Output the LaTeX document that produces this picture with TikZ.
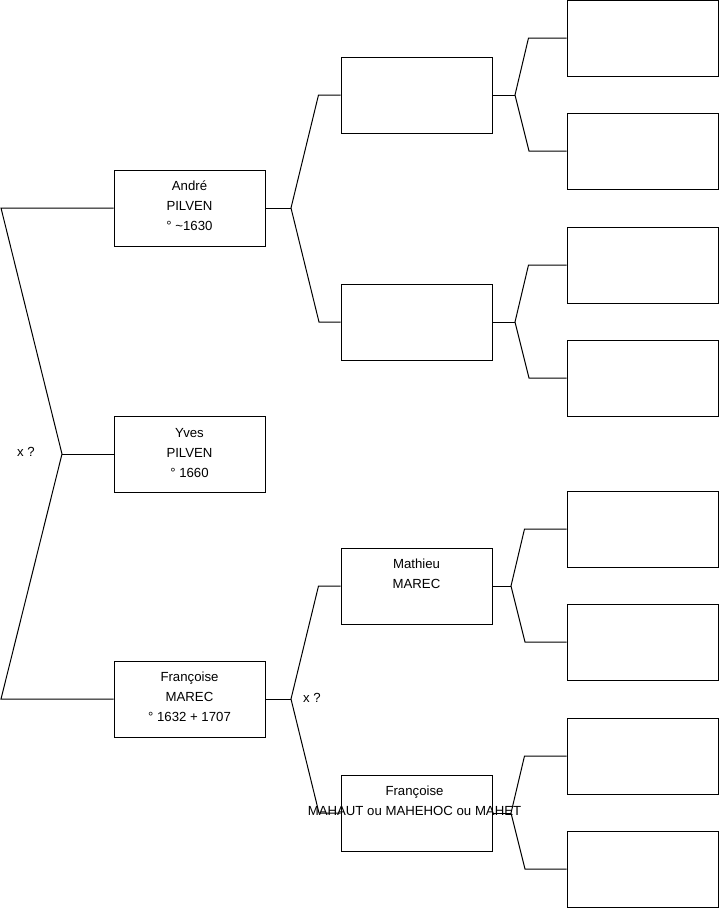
\documentclass[tikz,border=0pt]{standalone}
\usepackage{fontspec}
\setmainfont{Liberation Sans}
\usetikzlibrary{positioning}

\begin{document}
\begin{tikzpicture}[
    x=1pt, y=-1pt,
    person/.style={rectangle, draw, minimum width=151pt, minimum height=76pt, inner sep=0pt, line width=1pt},
    persontxt/.style={align=center, font=\fontsize{13.2}{20}\selectfont, inner sep=0pt, anchor=north},
    note/.style={font=\fontsize{13.2}{14}\selectfont, inner sep=0pt},
    link/.style={line width=1pt}
]
\useasboundingbox (0,0) rectangle (719,908);

% Generation 1
\node[person] (andre) at (189.5,208) {};
\node[person] (yves) at (189.5,454) {};
\node[person] (francoise) at (189.5,699) {};

\node[persontxt, below=11.5pt of andre.north] (andretxt) {André\\PILVEN\\° \textasciitilde1630};
\node[persontxt, below=12.5pt of yves.north] (yvestxt) {Yves\\PILVEN\\° 1660};
\node[persontxt, below=11.5pt of francoise.north] (francoisetxt) {Françoise\\MAREC\\° 1632 + 1707};

% Generation 2
\node[person] (pa) at (416.5,95) {};
\node[person] (pb) at (416.5,322) {};
\node[person] (mathieu) at (416.5,586) {};
\node[person] (mahaut) at (416.5,813) {};

\node[persontxt, below=11.5pt of mathieu.north] (mathieutxt) {Mathieu\\MAREC};
\node[persontxt, below=11.5pt of mahaut.north, xshift=-2pt] (mahauttxt) {Françoise\\MAHAUT ou MAHEHOC ou MAHET};

% Generation 3
\node[person] (q1) at (642.5,38) {};
\node[person] (q2) at (642.5,151) {};
\node[person] (q3) at (642.5,265) {};
\node[person] (q4) at (642.5,378) {};
\node[person] (q5) at (642.5,529) {};
\node[person] (q6) at (642.5,642) {};
\node[person] (q7) at (642.5,756) {};
\node[person] (q8) at (642.5,869) {};

% Fork to generation 1
\coordinate (yvesfork) at (62,454);
\draw[link] (andre.west) -- (1,208) -- (yvesfork) -- (1,699) -- (francoise.west);
\draw[link] (yvesfork) -- (yves.west);
\node[note] (union1) at (26,452) {x ?};

% Forks to generation 2
\coordinate (andrefork) at (291,208);
\draw[link] (andre.east) -- (andrefork);
\draw[link] (pa.west) -- ++(-22,0) -- (andrefork) -- (319,322) -- (pb.west);

\coordinate (francoisefork) at (291,699);
\draw[link] (francoise.east) -- (francoisefork);
\draw[link] (mathieu.west) -- ++(-22,0) -- (francoisefork) -- (319,813) -- (mahaut.west);
\node[note] (union2) at (312,698) {x ?};

% Forks to generation 3
\coordinate (pafork) at (515,95);
\draw[link] (pa.east) -- (pafork);
\draw[link] (q1.west) -- ++(-38,0) -- (pafork) -- (529,151) -- (q2.west);

\coordinate (pbfork) at (515,322);
\draw[link] (pb.east) -- (pbfork);
\draw[link] (q3.west) -- ++(-38,0) -- (pbfork) -- (529,378) -- (q4.west);

\coordinate (mathieufork) at (511,586);
\draw[link] (mathieu.east) -- (mathieufork);
\draw[link] (q5.west) -- ++(-42,0) -- (mathieufork) -- (525,642) -- (q6.west);

\coordinate (mahautfork) at (511,813);
\draw[link] (mahaut.east) -- (mahautfork);
\draw[link] (q7.west) -- ++(-42,0) -- (mahautfork) -- (525,869) -- (q8.west);

\end{tikzpicture}
\end{document}
